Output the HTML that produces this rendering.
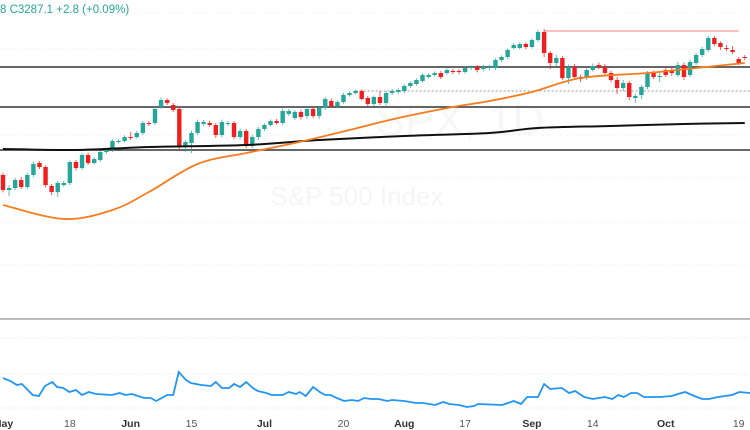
<!DOCTYPE html>
<html><head><meta charset="utf-8"><style>
html,body{margin:0;padding:0;background:#fff;width:750px;height:430px;overflow:hidden}
svg{display:block;font-family:"Liberation Sans",sans-serif}
</style></head><body>
<svg id="chart" width="750" height="430">
<g>
<text x="357" y="205" font-size="26" fill="#f5f5f5" text-anchor="middle">S&amp;P 500 Index</text>
<text x="460" y="135" font-size="44" fill="#f7f7f7" text-anchor="middle">SPX, 1D</text>
</g>
<g id="grid"></g>
<g id="levels"></g>
<g id="candles"></g>
<g id="mas"></g>
<line x1="0" y1="319" x2="750" y2="319" stroke="#bdbdbd" stroke-width="2"/>
<g id="lower"></g>
<g id="xaxis"></g>
<text x="0" y="13" font-size="11.5" fill="#26a69a">8  C3287.1  +2.8 (+0.09%)</text>
</svg>
<script>
const opens=[2858,2783,2793,2833,2798,2858,2918,2898,2803,2773,2808,2818,2923,2893,2958,2918,2933,2973,2983,3023,3028,3048,3048,3068,3118,3118,3198,3233,3208,3188,3003,3018,3068,3113,3118,3108,3058,3113,3118,3048,3078,3003,3048,3088,3108,3128,3118,3163,3143,3173,3153,3188,3153,3193,3228,3203,3223,3258,3268,3278,3243,3213,3248,3218,3268,3273,3278,3303,3313,3328,3348,3358,3368,3368,3378,3378,3373,3393,3398,3388,3393,3393,3433,3448,3493,3493,3513,3498,3533,3573,3468,3418,3443,3343,3398,3348,3343,3383,3408,3398,3368,3333,3293,3318,3243,3258,3298,3368,3353,3383,3383,3358,3408,3358,3418,3458,3483,3543,3518,3493,3483,3438,3448];
const closes=[2783,2793,2833,2798,2858,2913,2898,2808,2773,2818,2818,2923,2893,2958,2918,2938,2973,2983,3028,3028,3048,3043,3068,3118,3113,3188,3233,3218,3183,2998,3023,3068,3123,3123,3108,3058,3123,3118,3048,3078,3003,3048,3088,3108,3128,3118,3178,3178,3173,3148,3188,3153,3193,3238,3203,3223,3258,3268,3278,3238,3213,3248,3218,3268,3278,3283,3303,3318,3333,3358,3358,3368,3348,3383,3373,3373,3393,3398,3383,3398,3398,3433,3448,3483,3508,3513,3498,3533,3573,3468,3418,3443,3343,3398,3348,3338,3383,3403,3398,3368,3333,3293,3318,3248,3253,3298,3368,3348,3353,3358,3368,3408,3348,3423,3458,3488,3543,3513,3498,3488,3473,3418,3443];
const wickUp=[10,15,10,15,10,12,10,8,10,10,12,8,10,10,12,10,8,8,8,10,8,25,10,10,10,12,12,8,10,10,10,12,12,10,12,10,12,10,10,12,10,10,10,8,8,10,12,10,10,12,10,12,10,10,12,8,10,8,8,8,10,8,30,10,10,8,8,8,8,8,8,8,10,8,10,10,8,8,10,10,10,8,8,8,10,8,8,8,10,15,10,15,10,12,15,12,10,12,12,15,12,15,15,10,12,10,10,12,20,15,12,15,12,12,10,10,10,10,8,15,20,10,10];
const wickDn=[12,30,10,10,10,10,10,12,15,25,10,10,12,10,10,8,10,10,10,8,8,10,8,10,10,10,8,10,10,10,30,50,10,10,10,15,12,10,10,12,10,12,15,10,8,8,10,10,10,12,15,10,15,10,10,10,8,8,8,8,10,12,10,12,10,10,10,10,8,8,8,8,10,8,10,12,8,10,12,12,12,10,10,10,8,8,10,8,10,20,30,15,10,30,10,15,10,8,10,10,12,30,15,15,25,20,10,10,30,10,15,10,15,10,10,10,10,10,15,10,10,10,10];
const dateLabels=["May","18","Jun","15","Jul","20","Aug","17","Sep","14","Oct","19"];
const dateIdx=[0,11,21,31,43,56,66,76,87,97,109,121];
const dateBold=[1,0,1,0,1,0,1,0,1,0,1,0];
const levelPrices=[3398,3198,2983];
const resistancePrice=3578;
const dottedPrice=3278;
const ma50Idx=[0,10,18,24,32,40,48,57,65,74,80,87,95,106,114,122];
const ma50Val=[2708,2638,2683,2773,2913,2968,3018,3083,3143,3198,3228,3273,3343,3368,3393,3418];
const ma200Idx=[0,12,24,40,52,66,80,88,100,112,122];
const ma200Val=[2988,2983,2998,3008,3033,3053,3068,3093,3103,3113,3118];
const volT=[0,1.2,2.3,3.1,4.9,5.9,6.9,8.1,8.9,9.9,10.9,12,13,14.1,15.3,17.9,19.2,20.1,21.2,23.2,24.3,25.2,27,28,28.9,30.1,30.9,32.6,34.2,35,36,37.2,38,39,40,41.1,41.9,43.3,44.2,46,47,48.2,48.8,49.8,51,52.1,53,53.9,54.9,56.1,57.4,58.4,59.4,60.5,61.8,63.2,64,66,67.9,69.1,71.1,72.4,73.4,75,76.3,77.5,78.1,82.1,84,85.2,86.2,88,89,90,91.9,93.1,94.1,95.6,97,99,100.2,101.2,102.1,103.3,104.3,105.4,108.1,110,111,112.2,113.7,115,116.1,117.6,119.9,121.1,122.9];
const volV=[21,19.5,17.5,18,12.5,12,17,19,16.5,16,14,15,12.5,14,13,12.5,13.5,12.5,13,11,11,9.5,12.5,12.5,24,20,18.5,17.5,17,19,16,16,18,16.5,19,16,14.5,13.5,12.5,12.5,14,13,14,12,16.5,14,12.5,12.5,11,9.5,10,9.5,11,10.5,10.5,9.5,10,9.5,8.5,8.5,7.5,9,8,7.5,6.5,7,8,7.5,9.5,8,11.5,11.5,18,15.5,16,13.5,14.5,11.5,10.5,11.5,10.5,12.5,11.5,13.5,13.5,11.5,11.5,12,13,14,12,10.5,10.5,11.5,12.5,14,13.5];

const NS="http://www.w3.org/2000/svg";
function mk(tag,attrs,parent){const e=document.createElementNS(NS,tag);for(const k in attrs)e.setAttribute(k,attrs[k]);parent.appendChild(e);return e;}
const xS=i=>3+i*6.08;
const yS=p=>(3733-p)/5;
const yV=v=>420-v*2;

const grid=document.getElementById('grid');
[13,49,135,178,222,265].forEach(y=>{const l=mk('line',{x1:0,x2:750,y1:y,y2:y,stroke:'#eeeeee','stroke-dasharray':'1,2'},grid);

});
[338,374,408].forEach(y=>{const l=mk('line',{x1:0,x2:750,y1:y,y2:y,stroke:'#e6e6e6','stroke-dasharray':'1,2'},grid);

});

const lv=document.getElementById('levels');
levelPrices.forEach(p=>{const l=mk('line',{x1:0,x2:750,y1:yS(p),y2:yS(p),stroke:'#333','stroke-width':1.4},lv);

});
let r=mk('line',{x1:xS(89),x2:xS(121),y1:yS(resistancePrice),y2:yS(resistancePrice),stroke:'#f08080','stroke-width':1},lv);


let d=mk('line',{x1:xS(58),x2:750,y1:yS(dottedPrice),y2:yS(dottedPrice),stroke:'#999','stroke-width':1,'stroke-dasharray':'2,2'},lv);



const cg=document.getElementById('candles');
opens.forEach((o,i)=>{const c=closes[i];const up=c>=o;const col=up?'#26a69a':'#f01e1e';
const x=xS(i);const hi=Math.max(o,c)+wickUp[i];const lo=Math.min(o,c)-wickDn[i];
const w=mk('line',{x1:x,x2:x,y1:yS(hi),y2:yS(lo),stroke:col,'stroke-width':1,opacity:0.75},cg);


const top=yS(Math.max(o,c));const h=Math.max(1,yS(Math.min(o,c))-top);
const b=mk('rect',{x:x-2.2,y:top,width:4.4,height:h,fill:col},cg);

});

function smoothPath(pts){let s='M'+pts[0][0]+','+pts[0][1];for(let i=0;i<pts.length-1;i++){const p0=pts[i-1]||pts[i],p1=pts[i],p2=pts[i+1],p3=pts[i+2]||p2;
s+=' C'+(p1[0]+(p2[0]-p0[0])/6)+','+(p1[1]+(p2[1]-p0[1])/6)+' '+(p2[0]-(p3[0]-p1[0])/6)+','+(p2[1]-(p3[1]-p1[1])/6)+' '+p2[0]+','+p2[1];}return s;}
const mg=document.getElementById('mas');
let m2=mk('path',{d:smoothPath(ma200Idx.map((t,i)=>[xS(t),yS(ma200Val[i])])),fill:'none',stroke:'#111','stroke-width':2},mg);


let m5=mk('path',{d:smoothPath(ma50Idx.map((t,i)=>[xS(t),yS(ma50Val[i])])),fill:'none',stroke:'#f57c1f','stroke-width':1.8},mg);



const lg=document.getElementById('lower');
let vl=mk('polyline',{points:volT.map((t,i)=>xS(t)+','+yV(volV[i])).join(' '),fill:'none',stroke:'#2196f3','stroke-width':1.8},lg);



const xa=document.getElementById('xaxis');
dateLabels.forEach((s,i)=>{const t=mk('text',{x:xS(dateIdx[i]),y:427,'font-size':10.5,'text-anchor':'middle',fill:dateBold[i]?'#333':'#555','font-weight':dateBold[i]?'bold':'normal'},xa);
t.textContent=s;

});
</script>
</body></html>
